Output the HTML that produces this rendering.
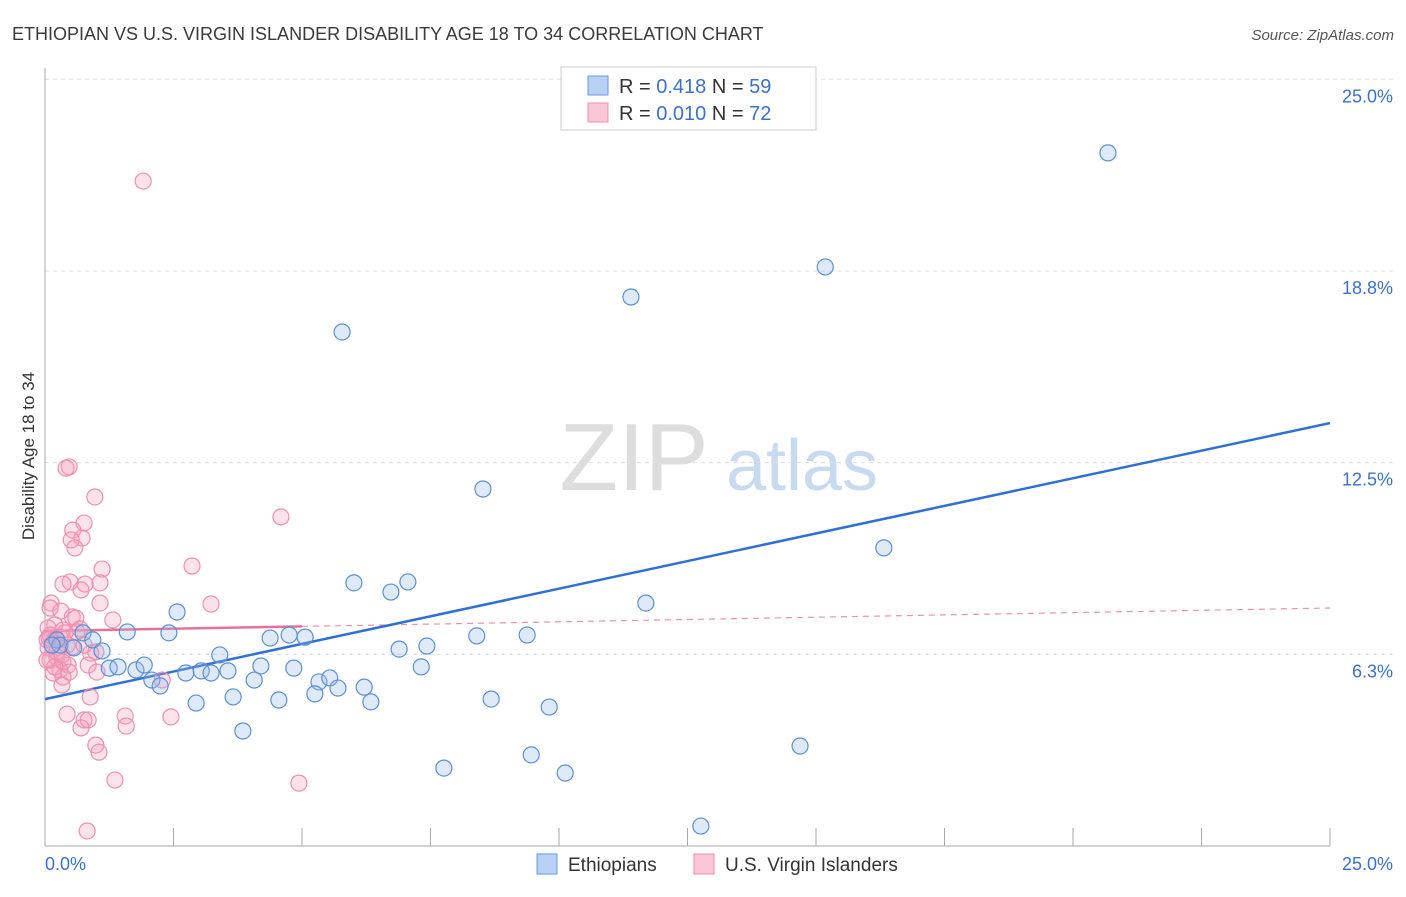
<!DOCTYPE html>
<html><head><meta charset="utf-8"><style>
body{margin:0;background:#fff;font-family:"Liberation Sans",sans-serif;}
svg text{font-family:"Liberation Sans",sans-serif;}
</style></head><body>
<svg id="chart" width="1406" height="892" viewBox="0 0 1406 892" xmlns="http://www.w3.org/2000/svg">
<text x="12" y="40" font-size="18" fill="#3a3a3a">ETHIOPIAN VS U.S. VIRGIN ISLANDER DISABILITY AGE 18 TO 34 CORRELATION CHART</text>
<text x="1394" y="40" font-size="15" fill="#555" text-anchor="end" font-style="italic">Source: ZipAtlas.com</text>
<g>
<text x="634" y="490" font-size="96" fill="#ddd" text-anchor="middle" font-family="Liberation Serif,serif">ZIP</text>
<text x="802" y="490" font-size="72" fill="#c8daf0" text-anchor="middle">atlas</text>
</g>
<g id="grid"></g>
<g id="axes"></g>
<text transform="translate(34,456) rotate(-90)" font-size="17" fill="#333" text-anchor="middle">Disability Age 18 to 34</text>
<g id="lines"></g>
<g id="pts"></g>
<g>
<rect x="561" y="67" width="255" height="63" fill="#fff" stroke="#ccc"/>
<rect x="588" y="76" width="20" height="19" fill="#b8d0f4" stroke="#6a9ae0"/>
<rect x="588" y="103" width="20" height="19" fill="#f9c6d6" stroke="#ee90ae"/>
<text x="619" y="93" font-size="20" fill="#333">R = <tspan fill="#3a70d0">0.418</tspan>   N = <tspan fill="#3a70d0">59</tspan></text>
<text x="619" y="120" font-size="20" fill="#333">R = <tspan fill="#3a70d0">0.010</tspan>   N = <tspan fill="#3a70d0">72</tspan></text>
</g>
<g>
<rect x="537" y="854" width="20" height="20" fill="#b8d0f4" stroke="#6a9ae0"/>
<text x="568" y="871" font-size="19" fill="#333">Ethiopians</text>
<rect x="694" y="854" width="20" height="20" fill="#f9c6d6" stroke="#ee90ae"/>
<text x="725" y="871" font-size="19" fill="#333">U.S. Virgin Islanders</text>
</g>
</svg>
<script>
const blueX=[20.68,15.18,11.40,5.78,8.52,16.32,11.69,6.01,7.06,6.73,2.57,1.60,2.41,0.74,0.93,4.38,4.75,5.06,6.89,7.43,8.40,9.38,3.40,4.20,4.84,1.25,1.42,1.77,1.93,2.74,3.04,3.23,3.56,4.07,5.33,5.54,5.70,6.21,5.25,2.08,2.24,3.66,2.94,4.55,6.34,8.68,9.81,3.85,7.32,14.69,9.46,7.76,10.12,12.76,0.23,0.29,0.14,0.56,1.11];
const blueY=[22.60,18.88,17.90,16.76,11.64,9.72,7.92,8.58,8.61,8.28,7.63,6.98,6.95,6.95,6.72,6.78,6.88,6.81,6.42,6.52,6.85,6.88,6.23,5.87,5.80,5.80,5.84,5.74,5.90,5.64,5.71,5.64,5.71,5.41,5.35,5.48,5.15,5.18,4.96,5.41,5.22,4.86,4.66,4.76,4.70,4.79,4.53,3.75,5.84,3.26,2.97,2.54,2.38,0.65,6.72,6.55,6.55,6.46,6.36];
const pinkX=[1.91,0.47,0.41,0.97,4.59,0.76,0.54,0.72,0.51,0.58,2.86,1.11,0.49,0.35,0.78,1.07,0.70,3.23,1.07,0.12,0.10,0.31,0.53,0.60,1.32,0.19,0.06,0.35,0.68,0.10,0.21,0.29,0.04,0.16,0.43,0.53,0.76,0.06,0.99,0.89,0.23,0.35,0.10,0.45,0.84,0.29,0.47,0.16,0.35,1.01,2.28,0.33,0.88,0.43,1.56,0.76,0.84,0.70,1.58,2.45,0.99,1.05,1.36,4.94,0.82,0.19,0.33,0.04,0.23,0.62,0.39,0.08];
const pinkY=[21.68,12.36,12.32,11.38,10.73,10.53,10.30,10.04,9.98,9.72,9.13,9.03,8.61,8.54,8.54,8.58,8.35,7.89,7.92,7.92,7.76,7.66,7.47,7.43,7.37,7.21,7.11,7.04,7.08,6.88,6.78,6.81,6.72,6.62,6.55,6.49,6.55,6.46,6.33,6.29,6.16,6.00,6.06,5.90,5.90,5.74,5.67,5.64,5.51,5.67,5.41,5.25,4.86,4.30,4.24,4.11,4.11,3.85,3.91,4.21,3.29,3.06,2.15,2.05,0.49,5.84,6.23,6.06,6.33,6.98,6.95,6.78];
const yTicks=[6.25,12.5,18.75,25];
const yTickLabels=["6.3%","12.5%","18.8%","25.0%"];
const blueTrend=[4.79,13.79];
const pinkTrend=[7.01,7.76];
const NS='http://www.w3.org/2000/svg';
const xs=v=>45+v*(1285/25);
const ys=v=>846-v*30.67;
function mk(t,a,p){const e=document.createElementNS(NS,t);for(const k in a)e.setAttribute(k,a[k]);p.appendChild(e);return e;}
const grid=document.getElementById('grid'),axes=document.getElementById('axes');
yTicks.forEach((v,i)=>{
 const l=mk('line',{x1:45,x2:1393,y1:ys(v),y2:ys(v),stroke:'#ddd','stroke-dasharray':'4,4'},grid);
 
 
 const t=mk('text',{x:1393,y:ys(v)+23,'font-size':18,fill:'#3a70d0','text-anchor':'end'},axes);
 t.textContent=yTickLabels[i];
 
 
});
mk('line',{x1:45,x2:45,y1:68,y2:846,stroke:'#aaa'},axes);
mk('line',{x1:45,x2:1330,y1:846,y2:846,stroke:'#aaa'},axes);
for(let i=0;i<=10;i++){const x=xs(i*2.5);const tk=mk('line',{x1:x,x2:x,y1:828,y2:846,stroke:'#aaa'},axes);
 
 }
const x0=mk('text',{x:45,y:870,'font-size':18,fill:'#3a70d0'},axes);x0.textContent='0.0%';


const x1=mk('text',{x:1393,y:870,'font-size':18,fill:'#3a70d0','text-anchor':'end'},axes);x1.textContent='25.0%';


const pts=document.getElementById('pts');
pinkX.forEach((x,i)=>{const c=mk('circle',{cx:xs(x),cy:ys(pinkY[i]),r:8,fill:'rgba(244,160,188,0.3)',stroke:'#ee8fae','stroke-width':1.2},pts);
 
 });
blueX.forEach((x,i)=>{const c=mk('circle',{cx:xs(x),cy:ys(blueY[i]),r:8,fill:'rgba(150,185,235,0.3)',stroke:'#5b8fd6','stroke-width':1.2},pts);
 
 });
const lines=document.getElementById('lines');
const pv=x=>pinkTrend[0]+(pinkTrend[1]-pinkTrend[0])*x/25;
const pd=mk('line',{x1:xs(5),y1:ys(pv(5)),x2:xs(25),y2:ys(pinkTrend[1]),stroke:'#ee8fae','stroke-width':1.2,'stroke-dasharray':'6,5'},lines);


const ps=mk('line',{x1:xs(0),y1:ys(pinkTrend[0]),x2:xs(5),y2:ys(pv(5)),stroke:'#e8709a','stroke-width':2.5},lines);


const bl=mk('line',{x1:xs(0),y1:ys(blueTrend[0]),x2:xs(25),y2:ys(blueTrend[1]),stroke:'#2f6fd6','stroke-width':2.5},lines);


</script>
</body></html>
